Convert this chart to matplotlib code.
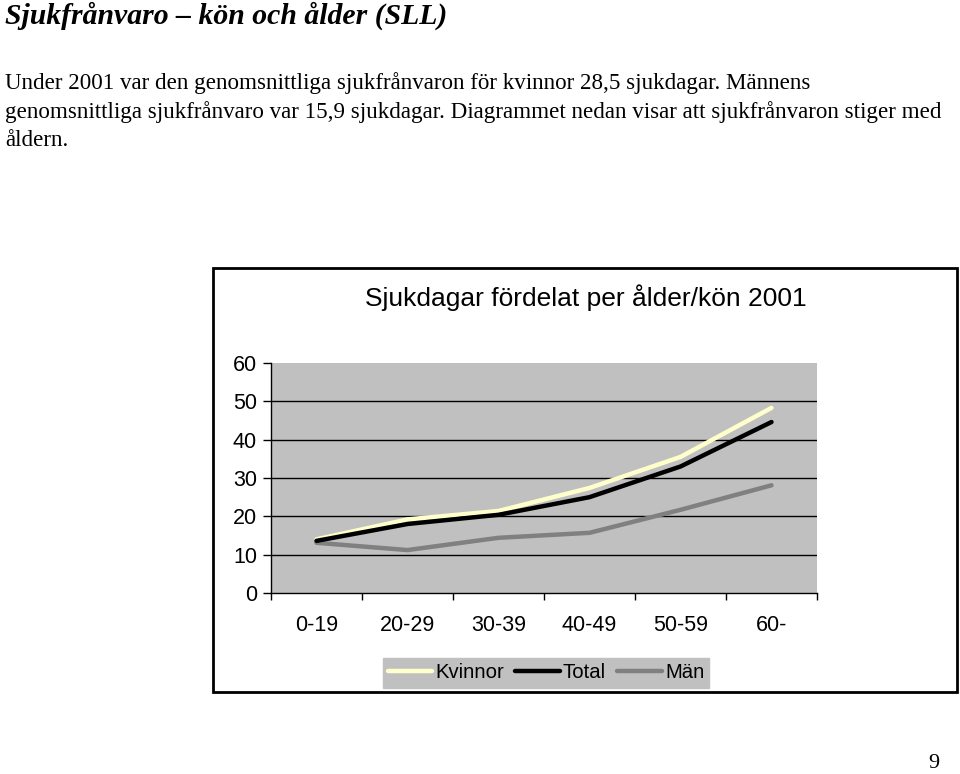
import matplotlib
matplotlib.use("Agg")
import matplotlib.pyplot as plt
from matplotlib.patches import Rectangle

categories = ["0-19", "20-29", "30-39", "40-49", "50-59", "60-"]
kvinnor = [14.0, 19.2, 21.4, 27.4, 35.5, 48.3]
total = [13.6, 18.0, 20.4, 25.0, 33.0, 44.6]
man = [13.1, 11.2, 14.4, 15.7, 21.7, 28.1]
yticks = [0, 10, 20, 30, 40, 50, 60]

W, H = 960, 774
fig = plt.figure(figsize=(W / 100, H / 100), dpi=100)
fig.patch.set_facecolor("white")

def fx(x):
    return x / W

def fy(y):
    return 1 - y / H

serif = ["Liberation Serif", "DejaVu Serif"]
sans = ["Liberation Sans", "DejaVu Sans"]

fig.text(fx(5), fy(16), "Sjukfrånvaro – kön och ålder (SLL)", fontsize=21.4,
         fontweight="bold", fontstyle="italic", family=serif, va="center", ha="left")
lines = [
    "Under 2001 var den genomsnittliga sjukfrånvaron för kvinnor 28,5 sjukdagar. Männens",
    "genomsnittliga sjukfrånvaro var 15,9 sjukdagar. Diagrammet nedan visar att sjukfrånvaron stiger med",
    "åldern.",
]
for i, t in enumerate(lines):
    fig.text(fx(5), fy(83 + i * 29), t, fontsize=16.6, family=serif, va="center", ha="left")

fig.text(fx(934), fy(763), "9", fontsize=16, family=serif, va="center", ha="center")

# chart border
fig.patches.append(Rectangle((fx(213), fy(692)), fx(957) - fx(213), fy(268) - fy(692),
                             transform=fig.transFigure, fill=False, edgecolor="black",
                             linewidth=2, zorder=0))

fig.text(fx(586), fy(298), "Sjukdagar fördelat per ålder/kön 2001", fontsize=19,
         family=sans, va="center", ha="center")

ax = fig.add_axes([fx(271), fy(593), fx(817) - fx(271), fy(363) - fy(593)])
ax.set_facecolor("#C0C0C0")
x = list(range(len(categories)))
ax.plot(x, kvinnor, color="#FFFFCC", lw=3.2, label="Kvinnor", solid_capstyle="round", zorder=3)
ax.plot(x, total, color="black", lw=3.2, label="Total", solid_capstyle="round", zorder=4)
ax.plot(x, man, color="#808080", lw=3.2, label="Män", solid_capstyle="round", zorder=2)

ax.set_xlim(-0.5, len(categories) - 0.5)
ax.set_ylim(0, 60)
ax.set_yticks(yticks)
ax.set_yticklabels([str(v) for v in yticks], fontsize=15.5, family=sans)
for v in yticks[1:-1]:
    ax.axhline(v, color="black", lw=1, zorder=1)

ax.set_xticks(x)
ax.set_xticklabels(categories, fontsize=15.5, family=sans)
ax.set_xticks([i - 0.5 for i in range(len(categories) + 1)], minor=True)
ax.tick_params(axis="x", which="major", length=0, pad=16)
ax.tick_params(axis="x", which="minor", length=5, width=1, direction="out")
ax.tick_params(axis="y", length=6, width=1, direction="out", pad=4)

for s in ["top", "right"]:
    ax.spines[s].set_visible(False)
ax.spines["left"].set_linewidth(1)
ax.spines["bottom"].set_linewidth(1)

leg = fig.legend(loc="center", bbox_to_anchor=(fx(546), fy(673)), ncol=3,
                 frameon=True, fancybox=False, facecolor="#C0C0C0", edgecolor="#C0C0C0",
                 framealpha=1, prop={"family": sans, "size": 14.6}, handlelength=2.2,
                 handletextpad=0.15, columnspacing=0.55, borderpad=0.25, borderaxespad=0)

fig.savefig("out.png", dpi=100)
